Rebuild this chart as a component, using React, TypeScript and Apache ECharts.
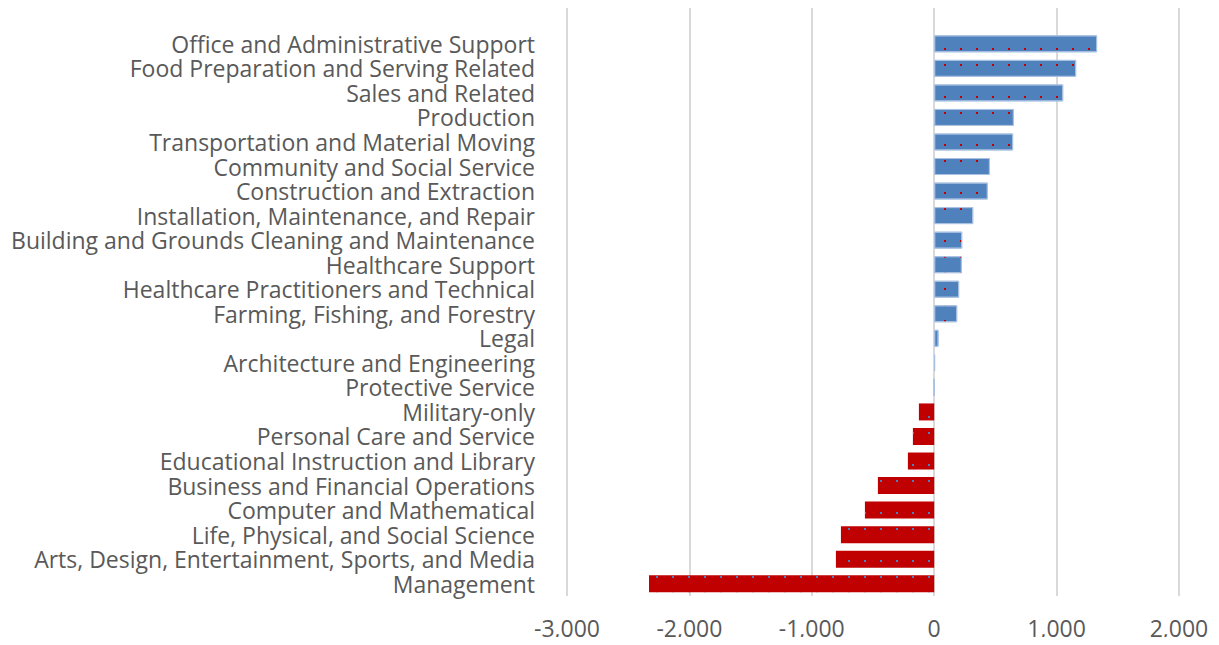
import React, { useEffect, useRef } from "react";
import * as echarts from "echarts";

const categories: string[] = [
  "",
  "Office and Administrative Support",
  "Food Preparation and Serving Related",
  "Sales and Related",
  "Production",
  "Transportation and Material Moving",
  "Community and Social Service",
  "Construction and Extraction",
  "Installation, Maintenance, and Repair",
  "Building and Grounds Cleaning and Maintenance",
  "Healthcare Support",
  "Healthcare Practitioners and Technical",
  "Farming, Fishing, and Forestry",
  "Legal",
  "Architecture and Engineering",
  "Protective Service",
  "Military-only",
  "Personal Care and Service",
  "Educational Instruction and Library",
  "Business and Financial Operations",
  "Computer and Mathematical",
  "Life, Physical, and Social Science",
  "Arts, Design, Entertainment, Sports, and Media",
  "Management",
];

const values: (number | null)[] = [
  null, 1331, 1160, 1054, 651, 645, 455, 438, 319, 229, 226, 204, 188, 36, 6, 0,
  -125, -174, -215, -460, -566, -762, -803, -2330,
];

const tickMin = -3000;
const tickMax = 2000;
const tickStep = 1000;

const FONT = '"Open Sans", sans-serif';

export default function App() {
  const ref = useRef<HTMLDivElement>(null);
  useEffect(() => {
    if (!ref.current) return;
    const chart = echarts.init(ref.current, undefined, { renderer: "svg" });
    const data = values.map((v) => {
      if (v === null) return null;
      const pos = v >= 0;
      return {
        value: v,
        itemStyle: {
          color: pos ? "#4F81BD" : "#C00000",
          borderColor: pos ? "#A9C1E0" : "#C00000",
          borderWidth: pos ? 1 : 0,
          decal: {
            symbol: "rect",
            symbolSize: 1,
            color: pos ? "#C00000" : "#4F81BD",
            dashArrayX: [2, 14],
            dashArrayY: [2, 14],
            rotation: 0,
          },
        },
      };
    });
    chart.setOption({
      animation: false,
      grid: { left: 567, right: 40, top: 7, bottom: 49, containLabel: false },
      xAxis: {
        type: "value",
        min: tickMin,
        max: tickMax,
        interval: tickStep,
        axisLine: { show: false },
        axisTick: { show: false },
        splitLine: { show: true, lineStyle: { color: "#D9D9D9", width: 2 } },
        axisLabel: {
          color: "#595959",
          fontSize: 23,
          fontFamily: FONT,
          margin: 21,
          lineHeight: 22,
          formatter: (v: number) => v.toLocaleString("en-US"),
        },
      },
      yAxis: {
        type: "category",
        inverse: true,
        data: categories,
        axisLine: { show: false },
        axisTick: { show: false },
        splitLine: { show: false },
        axisLabel: {
          color: "#595959",
          fontSize: 23,
          fontFamily: FONT,
          margin: 32,
          interval: 0,
          lineHeight: 20,
          padding: [0, 0, 3, 0],
        },
      },
      series: [
        {
          type: "bar",
          data,
          barWidth: 17,
        },
      ],
    });
    return () => chart.dispose();
  }, []);
  return <div ref={ref} style={{ width: 1219, height: 645, margin: -8 }} />;
}
